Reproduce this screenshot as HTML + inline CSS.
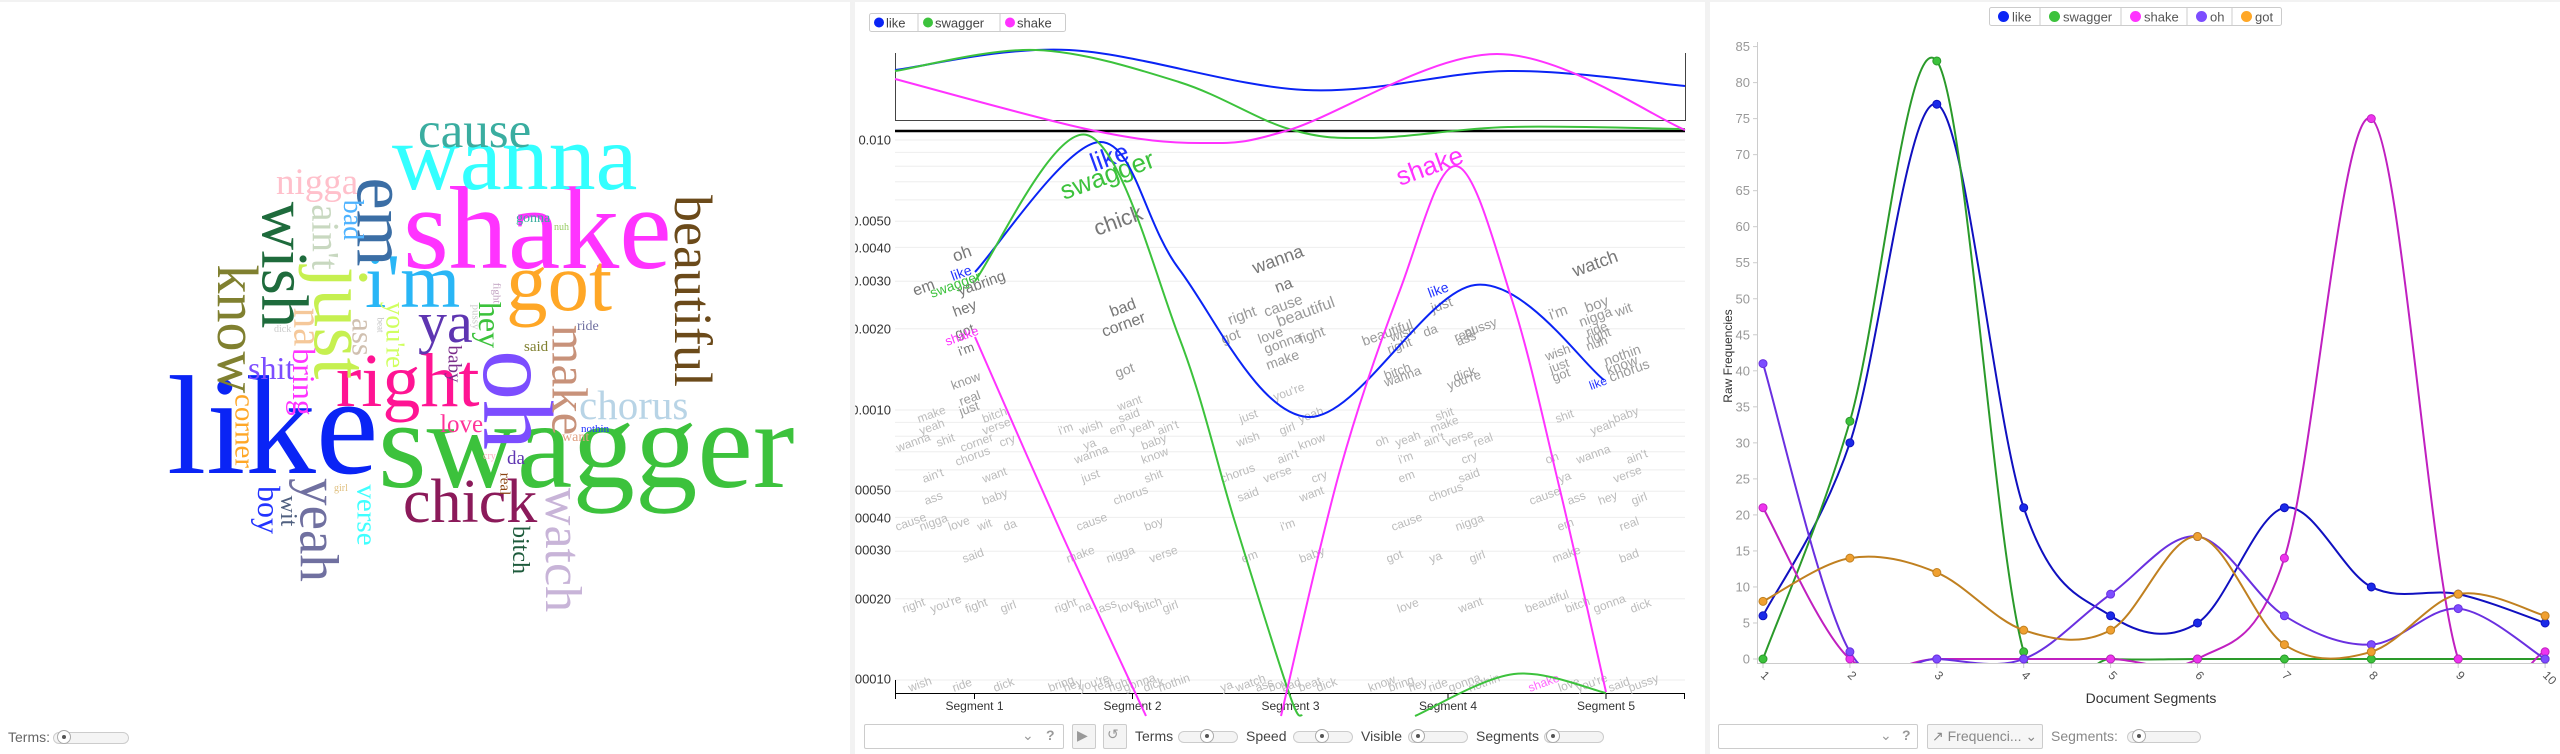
<!DOCTYPE html>
<html><head><meta charset="utf-8">
<style>
html,body{margin:0;padding:0;background:#fff;}
body{width:2560px;height:754px;position:relative;overflow:hidden;font-family:"Liberation Sans",sans-serif;}
.band{position:absolute;background:#f2f2f2;}
.w{position:absolute;font-family:"Liberation Serif",serif;white-space:nowrap;line-height:1;}
.r{transform:translate(-50%,-50%) rotate(90deg);}
.ctl{position:absolute;font-size:14px;color:#444;}
.sl{position:absolute;height:10px;border:1px solid #ccc;border-radius:6px;background:#f4f4f4;}
.kn{position:absolute;width:12px;height:12px;border:1px solid #aaa;border-radius:50%;background:#fff;}
.kn:after{content:"";position:absolute;left:4px;top:4px;width:4px;height:4px;border-radius:50%;background:#555;}
.box{position:absolute;border:1px solid #ccc;border-radius:2px;background:#fff;}
</style></head><body>
<div class="band" style="left:0;top:0;width:2560px;height:2px"></div>
<div class="band" style="left:850px;top:0;width:5px;height:754px"></div>
<div class="band" style="left:1705px;top:0;width:5px;height:754px"></div>

<div id="cloud" style="position:absolute;left:0;top:0;width:850px;height:754px;overflow:hidden"></div>
<div class="ctl" style="left:8px;top:729px;color:#666">Terms:</div>
<div class="sl" style="left:53px;top:732px;width:74px"></div>
<div class="kn" style="left:57px;top:730px"></div>

<svg id="mid" style="position:absolute;left:0;top:0" width="2560" height="754"></svg>

<div class="box" style="left:864px;top:724px;width:198px;height:23px"></div>
<div class="ctl" style="left:1022px;top:727px;color:#999">&#8964;</div>
<div class="ctl" style="left:1046px;top:727px;color:#999;font-weight:bold">?</div>
<div class="box" style="left:1072px;top:724px;width:22px;height:23px;background:#f4f4f4"></div>
<div class="ctl" style="left:1077px;top:727px;color:#999">&#9654;</div>
<div class="box" style="left:1103px;top:724px;width:22px;height:23px;background:#f4f4f4"></div>
<div class="ctl" style="left:1107px;top:726px;color:#999">&#8634;</div>
<div class="ctl" style="left:1135px;top:728px">Terms</div>
<div class="sl" style="left:1178px;top:731px;width:58px"></div><div class="kn" style="left:1200px;top:729px"></div>
<div class="ctl" style="left:1246px;top:728px">Speed</div>
<div class="sl" style="left:1293px;top:731px;width:58px"></div><div class="kn" style="left:1315px;top:729px"></div>
<div class="ctl" style="left:1361px;top:728px">Visible</div>
<div class="sl" style="left:1408px;top:731px;width:58px"></div><div class="kn" style="left:1411px;top:729px"></div>
<div class="ctl" style="left:1476px;top:728px">Segments</div>
<div class="sl" style="left:1544px;top:731px;width:58px"></div><div class="kn" style="left:1546px;top:729px"></div>

<div class="box" style="left:1718px;top:724px;width:198px;height:23px"></div>
<div class="ctl" style="left:1880px;top:727px;color:#999">&#8964;</div>
<div class="ctl" style="left:1902px;top:727px;color:#999;font-weight:bold">?</div>
<div class="box" style="left:1927px;top:724px;width:114px;height:23px;background:#f6f6f6"></div>
<div class="ctl" style="left:1932px;top:728px;color:#888">&#8599; Frequenci... &#8964;</div>
<div class="ctl" style="left:2051px;top:728px;color:#888">Segments:</div>
<div class="sl" style="left:2127px;top:731px;width:72px"></div><div class="kn" style="left:2132px;top:729px"></div>

<script>
var cloud=document.getElementById('cloud');
function W(t,x,y,s,c,rot){var d=document.createElement('div');d.className='w'+(rot?' r':'');d.textContent=t;d.style.fontSize=s+'px';d.style.color=c;
 if(rot){d.style.left=x+'px';d.style.top=y+'px';}else{d.style.left=x+'px';d.style.top=(y-s*0.89)+'px';}cloud.appendChild(d);}
W('like',167,481,141,'#0a24f5');W('swagger',378,495,125,'#3cc23c');W('shake',403,275,118,'#ff33ff');
W('wanna',392,195,94,'#3ff');W('cause',418,151,51,'#3aada0');W('nigga',276,197,37,'#ffc0cb');
W('got',506,315,83,'#ffa726');W('right',336,411,76,'#ff1493');W('chick',403,526,62,'#8b1a5a');
W('chorus',579,421,41,'#b8d4e6');W('love',440,434,25,'#ff3399');W("i'm",365,312,77,'#29b6f6');
W('ya',418,346,58,'#5e35b1');W('gonna',516,224,14,'#3aada0');W('nuh',554,232,10,'#99cc66');
W('ride',577,332,14,'#7070a0');W('said',524,353,15,'#808030');W('shit',248,380,32,'#7c4dff');
W('nothin',581,434,11,'#2233ff');W('want',562,443,14,'#e0a080');W('cry',483,461,10,'#ffb0c0');
W('da',507,466,19,'#5e35b1');W('dick',274,334,10,'#ccc');W('girl',334,493,10,'#e0c080');
W('em',382,222,73,'#3b6ea5',1);W('wish',284,265,67,'#1e6b3c',1);W('know',237,329,58,'#808030',1);
W("ain't",325,237,39,'#c8d8c0',1);W('just',341,323,78,'#c6f050',1);W('bad',352,220,28,'#4fb3ff',1);
W('beautiful',693,291,54,'#6b4a1a',1);W('oh',517,400,100,'#7c4dff',1);W('make',568,380,51,'#c8927a',1);
W('watch',562,550,52,'#c8b4d8',1);W('yeah',319,530,55,'#7070a0',1);W('boy',269,510,32,'#2233ff',1);
W('wit',288,511,24,'#506080',1);W('verse',366,515,29,'#40ffff',1);W('corner',244,431,29,'#ffa726',1);
W('bring',304,382,32,'#ff33ff',1);W('na',308,327,41,'#f5c89a',1);W('ass',363,337,31,'#d0c0b0',1);
W("you're",395,335,27,'#d0ff60',1);W('hey',490,325,32,'#3cc23c',1);W('baby',454,364,19,'#7b2d8b',1);
W('bitch',520,550,24,'#1e5b3c',1);W('real',504,484,15,'#8b4513',1);W('pussy',475,317,11,'#ccc',1);
W('fight',496,293,11,'#c0a0c0',1);W('beat',380,325,9,'#c0c0c0',1);

var svg=document.getElementById('mid'),h='';
function cr(p){var s='M'+p[0][0]+','+p[0][1];for(var i=0;i<p.length-1;i++){var a=p[i-1]||p[i],b=p[i],c=p[i+1],d=p[i+2]||c;
 s+=' C'+(b[0]+(c[0]-a[0])/6).toFixed(1)+','+(b[1]+(c[1]-a[1])/6).toFixed(1)+' '+(c[0]-(d[0]-b[0])/6).toFixed(1)+','+(c[1]-(d[1]-b[1])/6).toFixed(1)+' '+c[0]+','+c[1];}return s;}
function P(p,col,w,clip){h+='<path d="'+cr(p)+'" fill="none" stroke="'+col+'" stroke-width="'+(w||2)+'"'+(clip?' clip-path="url(#'+clip+')"':'')+'/>';}
function T(t,x,y,s,c,extra){h+='<text x="'+x+'" y="'+y+'" font-size="'+s+'" fill="'+c+'" '+(extra||'')+'>'+t+'</text>';}
h+='<defs><clipPath id="cr"><rect x="1758" y="40" width="800" height="623"/></clipPath><clipPath id="cm"><rect x="855" y="0" width="845" height="754"/></clipPath></defs>';
h+='<rect x="869.5" y="13.5" width="196" height="18" rx="2" fill="#fff" stroke="#ccc"/><line x1="918" y1="14" x2="918" y2="31" stroke="#ccc"/><line x1="1000" y1="14" x2="1000" y2="31" stroke="#ccc"/>';
h+='<circle cx="879" cy="22.5" r="5" fill="#0a24f5"/>';T('like',886,27.5,13,'#444');
h+='<circle cx="928" cy="22.5" r="5" fill="#3cc23c"/>';T('swagger',935,27.5,13,'#444');
h+='<circle cx="1010" cy="22.5" r="5" fill="#ff33ff"/>';T('shake',1017,27.5,13,'#444');
h+='<path d="M895.5,53 V120.5 H1685.5 V53" fill="none" stroke="#444" stroke-width="1"/>';
var g='<g clip-path="url(#cm)">';
[1,2,3,4,5,6,7,8,9].forEach(function(m){[0.0001,0.001,0.01].forEach(function(d){var v=m*d;if(v>0.0105)return;var y=140+270*(-2-Math.log10(v));
 g+='<line x1="895" y1="'+y.toFixed(1)+'" x2="1685" y2="'+y.toFixed(1)+'" stroke="#eee"/>';});});
[['0.010',140],['0.0050',221],['0.0040',248],['0.0030',281],['0.0020',329],['0.0010',410],['0.00050',490],['0.00040',518],['0.00030',550],['0.00020',599],['0.00010',679]].forEach(function(a){
 g+='<text x="891" y="'+(a[1]+4.5)+'" font-size="13" fill="#333" text-anchor="end">'+a[0]+'</text>';});
g+='</g>';h+=g;
h+='<line x1="895" y1="131" x2="1685" y2="131" stroke="#000" stroke-width="2.5"/>';
h+='<line x1="895.5" y1="680" x2="895.5" y2="699" stroke="#000"/><line x1="895" y1="693.5" x2="1685" y2="693.5" stroke="#000"/><line x1="1684.5" y1="693" x2="1684.5" y2="699" stroke="#000"/>';
[974.5,1132.5,1290.5,1448,1606].forEach(function(x,i){h+='<line x1="'+x+'" y1="693" x2="'+x+'" y2="699" stroke="#000"/>';T('Segment '+(i+1),x,710,12,'#333','text-anchor="middle"');});
function G(t,x,y,s,c){T(t,x,y,s,c,'transform="rotate(-20 '+x+' '+y+')"');}
var dk='#777',lt='#bbb';
G('like',1094,172,26,'#2233ff');G('swagger',1064,200,26,'#3cc23c');G('chick',1097,236,22,dk);G('shake',1400,186,26,'#ff33ff');
G('oh',955,262,17,dk);G('em',915,296,16,dk);G('like',953,281,14,'#2233ff');G('swagger',932,298,14,'#3cc23c');G('ya',960,296,15,dk);G('bring',975,291,15,dk);
G('hey',955,317,15,dk);G('got',957,339,14,dk);G('shake',947,346,13,'#ff33ff');G("i'm",960,356,13,dk);
G('bad',1112,317,16,dk);G('corner',1104,337,16,dk);G('got',1117,378,14,'#999');
G('wanna',1255,274,18,dk);G('na',1277,293,16,dk);G('right',1230,325,15,'#999');G('cause',1266,317,15,'#999');G('beautiful',1279,327,16,'#999');
G('got',1223,344,14,'#999');G('love',1260,344,14,'#999');G('gonna',1266,354,14,'#999');G('fight',1301,344,14,'#999');G('make',1268,370,14,'#999');
G('watch',1575,277,18,dk);G("i'm",1551,320,15,'#999');G('boy',1587,313,15,'#999');G('nigga',1581,327,14,'#999');G('wit',1617,317,14,'#999');
G('ride',1588,337,13,'#999');G('right',1588,344,13,'#999');G('nuh',1588,351,13,'#999');G('nothin',1606,366,14,'#999');G('know',1608,375,14,'#999');G('chorus',1611,382,14,'#999');
G('wish',1547,361,13,'#999');G('just',1551,373,13,'#999');G('got',1554,382,13,'#999');G('like',1591,390,12,'#2233ff');
G('beautiful',1364,346,14,'#999');G('wish',1392,342,13,'#999');G('right',1389,354,13,'#999');G('da',1425,337,13,'#999');G('like',1430,298,14,'#2233ff');G('just',1433,313,14,'#999');
G('pussy',1466,337,13,'#999');G('real',1456,342,13,'#999');G('ass',1458,346,13,'#999');G('bitch',1386,380,13,'#999');G('wanna',1386,387,13,'#999');G('dick',1455,382,13,'#999');G("you're",1449,390,13,'#999');
G('know',953,390,13,'#999');G('real',961,406,13,'#999');G('just',961,416,13,'#999');
var L=[['make',919,423],['yeah',921,435],['wanna',898,452],['shit',938,447],['bitch',984,423],['verse',984,435],['corner',962,452],['cry',1001,447],['chorus',957,466],["ain't",924,483],['want',984,483],['ass',926,505],['baby',984,505],['cause',897,531],['nigga',921,531],['love',950,531],['wit',979,531],['da',1005,531],['said',964,563],['right',904,613],["you're",932,613],['fight',967,613],['girl',1002,613],['wish',910,692],['ride',954,692],['dick',995,692],
['want',1119,411],['said',1120,423],["i'm",1060,435],['wish',1081,435],['em',1111,435],['yeah',1131,435],["ain't",1159,435],['ya',1085,450],['baby',1143,450],['wanna',1076,464],['know',1143,464],['just',1083,483],['shit',1146,483],['chorus',1115,505],['cause',1078,531],['boy',1146,531],['make',1068,563],['nigga',1108,563],['verse',1151,563],['right',1056,613],['na',1080,613],['ass',1100,613],['love',1120,613],['bitch',1139,613],['girl',1164,613],['bring',1050,692],['hey',1065,692],["you're",1080,692],['real',1095,692],['right',1110,692],['gonna',1125,692],['dick',1145,692],['nothin',1160,692],
['just',1241,423],["you're",1275,401],['girl',1281,435],['yeah',1300,423],['wish',1238,447],["ain't",1279,464],['know',1300,450],['chorus',1222,483],['verse',1265,483],['cry',1313,483],['said',1239,502],['want',1301,502],["i'm",1282,531],['em',1243,563],['baby',1301,563],['ya',1222,692],['watch',1237,692],['ass',1257,692],['boy',1270,692],['bad',1283,692],['beat',1300,692],['dick',1318,692],
['shit',1437,421],['make',1432,433],['oh',1377,447],['yeah',1397,447],["ain't",1425,447],['verse',1447,447],['real',1475,447],["i'm",1400,464],['cry',1463,464],['em',1400,483],['said',1460,483],['chorus',1430,502],['cause',1393,531],['nigga',1457,531],['got',1388,563],['ya',1431,563],['girl',1471,563],['love',1399,613],['want',1460,613],['know',1370,692],['bring',1390,692],['hey',1410,692],['ride',1430,692],['gonna',1450,692],['nothin',1470,692],
['shit',1557,423],['yeah',1592,435],['baby',1615,423],['oh',1547,464],['wanna',1578,464],["ain't",1628,464],['ya',1560,483],['verse',1615,483],['cause',1531,505],['ass',1569,505],['hey',1600,505],['girl',1633,505],['em',1559,531],['real',1621,531],['make',1554,563],['bad',1621,563],['beautiful',1527,613],['bitch',1567,613],['gonna',1595,613],['dick',1632,613],['love',1560,692],["you're",1578,692],['said',1610,692],['pussy',1630,692]];
L.forEach(function(a){G(a[0],a[1],a[2],12,lt);});G('shake',1530,692,12,'#ff66ff');
P([[895,70],[1069,50],[1305,90],[1508,71],[1685,86]],'#0a24f5',2);
P([[895,71],[1036,50],[1179,82],[1289,129],[1371,138],[1508,127],[1685,129]],'#3cc23c',2);
P([[895,79],[1091,130],[1201,143],[1289,130],[1497,54],[1685,130]],'#ff33ff',2);
P([[975,272],[1100,142],[1179,269],[1308,417],[1475,285],[1604,380]],'#0a24f5',2);
P([[975,281],[1087,135],[1179,337],[1234,519],[1289,693],[1302,716]],'#3cc23c',2);
P([[1415,716],[1514,674],[1606,693]],'#3cc23c',2);
P([[975,337],[1060,530],[1146,716]],'#ff33ff',2);
P([[1281,716],[1340,470],[1400,290],[1456,166],[1512,300],[1560,490],[1606,692]],'#ff33ff',2);

h+='<rect x="1989.5" y="7.5" width="292" height="18" rx="2" fill="#fff" stroke="#ccc"/>';
[['like',1989,51,'#0a24f5'],['swagger',2040,81,'#3cc23c'],['shake',2121,66,'#ff33ff'],['oh',2187,45,'#7c4dff'],['got',2232,49,'#ffa726']].forEach(function(a,i){
 if(i)h+='<line x1="'+a[1]+'" y1="8" x2="'+a[1]+'" y2="25" stroke="#ccc"/>';h+='<circle cx="'+(a[1]+14.5)+'" cy="16.5" r="5.5" fill="'+a[3]+'"/>';T(a[0],a[1]+23,21.5,13,'#555');});
h+='<line x1="1757.5" y1="42" x2="1757.5" y2="663" stroke="#ccc"/><line x1="1757" y1="663.5" x2="2548" y2="663.5" stroke="#ccc"/>';
function Y(v){return 659-v*7.205;}
for(var v=0;v<=85;v+=5){var y=Y(v);h+='<line x1="1753" y1="'+y+'" x2="1758" y2="'+y+'" stroke="#ccc"/>';T(v,1750,y+4.5,13,'#999','text-anchor="end"');}
function X(i){return 1763+86.9*i;}
for(var i=0;i<10;i++){var x=X(i);h+='<line x1="'+x+'" y1="663" x2="'+x+'" y2="668" stroke="#ccc"/>';T(i+1,x-3,676,12,'#555','transform="rotate(45 '+(x-3)+' 676)"');}
T('Document Segments',2151,703,14,'#333','text-anchor="middle"');
T('Raw Frequencies',1732,356,12,'#333','text-anchor="middle" transform="rotate(-90 1732 356)"');
var D=[['#1010c0','#1a2ae8',[6,30,77,21,6,5,21,10,9,5]],['#2a9a2a','#3cc23c',[0,33,83,1,0,0,0,0,0,0]],['#c020c0','#ee33ee',[21,0,0,0,0,0,14,75,0,1]],['#6a30e0','#7c4dff',[41,1,0,0,9,17,6,2,7,0]],['#c08020','#f0a030',[8,14,12,4,4,17,2,1,9,6]]];
D.forEach(function(s){var p=s[2].map(function(v,i){return [X(i),Y(v)];});P(p,s[0],2,'cr');});
D.forEach(function(s){s[2].forEach(function(v,i){h+='<circle cx="'+X(i)+'" cy="'+Y(v)+'" r="4" fill="'+s[1]+'" stroke="'+s[0]+'"/>';});});
svg.innerHTML=h;
</script>
</body></html>
